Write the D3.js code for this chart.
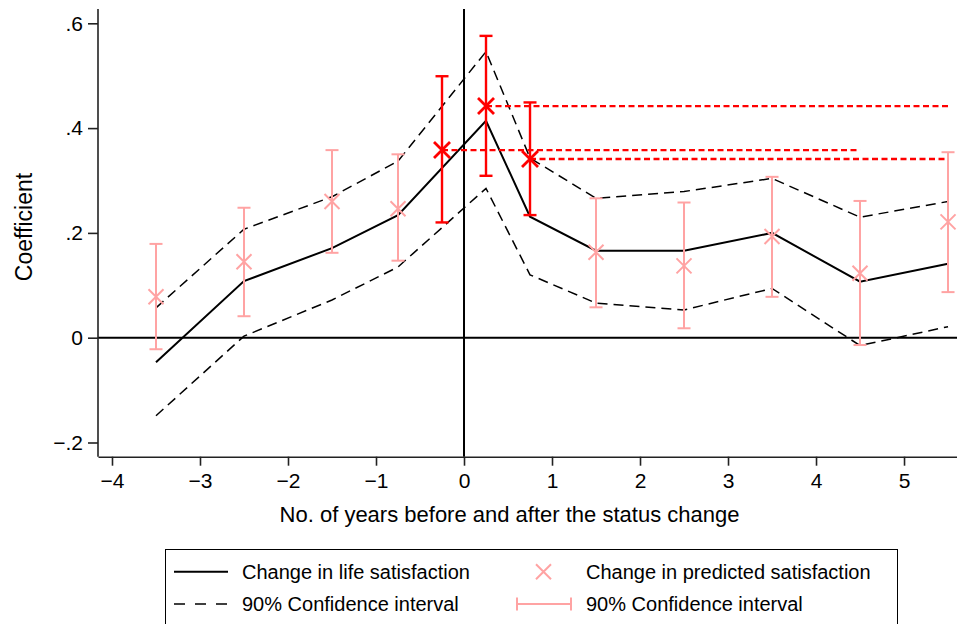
<!DOCTYPE html>
<html>
<head>
<meta charset="utf-8">
<script src="https://cdn.jsdelivr.net/npm/d3@7"></script>
<style>
  html, body { margin: 0; padding: 0; background: #fff; }
  svg { display: block; }
  text { font-family: "Liberation Sans", Arial, Helvetica, sans-serif; fill: #000; }
</style>
</head>
<body>
<svg id="chart" width="957" height="624"></svg>
<script>
// ---- data ----
const lineX    = [-3.5, -2.5, -1.5, -0.75, 0.25, 0.75, 1.5, 2.5, 3.5, 4.5, 5.5];
const lifeSat  = [-0.047, 0.108, 0.171, 0.234, 0.414, 0.231, 0.166, 0.166, 0.200, 0.107, 0.141];
const ciUpper  = [0.057, 0.207, 0.269, 0.337, 0.546, 0.343, 0.266, 0.279, 0.304, 0.230, 0.260];
const ciLower  = [-0.149, 0.003, 0.072, 0.135, 0.285, 0.120, 0.066, 0.053, 0.094, -0.015, 0.021];

const predX    = [-3.5, -2.5, -1.5, -0.75, 1.5, 2.5, 3.5, 4.5, 5.5];
const pred     = [0.078, 0.145, 0.260, 0.246, 0.163, 0.137, 0.193, 0.123, 0.221];
const predHi   = [0.179, 0.248, 0.358, 0.350, 0.266, 0.258, 0.307, 0.261, 0.354];
const predLo   = [-0.022, 0.041, 0.162, 0.147, 0.058, 0.018, 0.078, -0.014, 0.087];

const redX     = [-0.25, 0.25, 0.75];
const red      = [0.358, 0.442, 0.341];
const redHi    = [0.499, 0.576, 0.449];
const redLo    = [0.220, 0.309, 0.234];
const refEnd   = [4.5, 5.5, 5.5];

const xTicks   = [-4, -3, -2, -1, 0, 1, 2, 3, 4, 5];
const yTicks   = [-0.2, 0, 0.2, 0.4, 0.6];
const yTickLabels = ["\u2212.2", "0", ".2", ".4", ".6"];

const xTitle = "No. of years before and after the status change";
const yTitle = "Coefficient";
const legendLabels = ["Change in life satisfaction", "Change in predicted satisfaction",
                      "90% Confidence interval", "90% Confidence interval"];

// ---- layout ----
const svg = d3.select("#chart");
const plotL = 98, plotR = 957, plotT = 9, plotB = 456.7;
const x = d3.scaleLinear().domain([-4.159, 5.602]).range([plotL, plotR]);
const y = d3.scaleLinear().domain([-0.2271, 0.6273]).range([plotB, plotT]);

const PINK = "#ffa3a3", RED = "#ff0000";

// reference lines
svg.append("line").attr("x1", plotL).attr("x2", plotR)
  .attr("y1", y(0)).attr("y2", y(0)).attr("stroke", "#000").attr("stroke-width", 2);
svg.append("line").attr("x1", x(0)).attr("x2", x(0))
  .attr("y1", plotT).attr("y2", plotB).attr("stroke", "#000").attr("stroke-width", 2);

// axes
const yAxis = d3.axisLeft(y).tickValues(yTicks)
  .tickFormat((d, i) => yTickLabels[i]).tickSize(10).tickPadding(5).tickSizeOuter(0);
const gy = svg.append("g").attr("transform", `translate(${plotL},0)`).call(yAxis);
gy.select(".domain").attr("d", `M0,${plotT}V${plotB}`);
const xAxis = d3.axisBottom(x).tickValues(xTicks)
  .tickFormat(d => d < 0 ? "\u2212" + Math.abs(d) : String(d))
  .tickSize(9).tickPadding(7).tickSizeOuter(0);
const gx = svg.append("g").attr("transform", `translate(0,${plotB})`).call(xAxis);
[gx, gy].forEach(g => {
  g.selectAll(".domain").attr("stroke", "#222").attr("stroke-width", 1.6);
  g.selectAll(".tick line").attr("stroke", "#222").attr("stroke-width", 1.6);
  g.selectAll(".tick text").attr("font-size", 21)
    .attr("font-family", '"Liberation Sans", Arial, Helvetica, sans-serif').attr("fill", "#000");
});

// titles
svg.append("text").attr("x", (plotL + 957) / 2 - 18).attr("y", 522)
  .attr("text-anchor", "middle").attr("font-size", 22).text(xTitle);
svg.append("text").attr("transform", `translate(32,227) rotate(-90)`)
  .attr("text-anchor", "middle").attr("font-size", 23).text(yTitle);

// black lines
const idx = d3.range(lineX.length);
const lineGen = arr => d3.line().x(i => x(lineX[i])).y(i => y(arr[i]))(idx);
svg.append("path").attr("d", lineGen(ciUpper)).attr("fill", "none")
  .attr("stroke", "#000").attr("stroke-width", 1.5).attr("stroke-dasharray", "10,6");
svg.append("path").attr("d", lineGen(ciLower)).attr("fill", "none")
  .attr("stroke", "#000").attr("stroke-width", 1.5).attr("stroke-dasharray", "10,6");
svg.append("path").attr("d", lineGen(lifeSat)).attr("fill", "none")
  .attr("stroke", "#000").attr("stroke-width", 2);

// error bars + X markers
function drawBars(xs, mid, lo, hi, color, sw, cap, ms, msw) {
  const g = svg.append("g");
  xs.forEach((xv, i) => {
    const cx = x(xv);
    g.append("line").attr("x1", cx).attr("x2", cx).attr("y1", y(lo[i])).attr("y2", y(hi[i]))
      .attr("stroke", color).attr("stroke-width", sw);
    [lo[i], hi[i]].forEach(v => {
      g.append("line").attr("x1", cx - cap).attr("x2", cx + cap).attr("y1", y(v)).attr("y2", y(v))
        .attr("stroke", color).attr("stroke-width", sw);
    });
    const cy = y(mid[i]);
    g.append("path").attr("d", `M${cx - ms},${cy - ms}L${cx + ms},${cy + ms}M${cx - ms},${cy + ms}L${cx + ms},${cy - ms}`)
      .attr("stroke", color).attr("stroke-width", msw).attr("fill", "none");
  });
}
drawBars(predX, pred, predLo, predHi, PINK, 2, 6.5, 7.5, 2);

// red dashed reference levels
redX.forEach((xv, i) => {
  svg.append("line").attr("x1", x(xv)).attr("x2", x(refEnd[i]))
    .attr("y1", y(red[i])).attr("y2", y(red[i]))
    .attr("stroke", RED).attr("stroke-width", 2.4).attr("stroke-dasharray", "6,3.5");
});
drawBars(redX, red, redLo, redHi, RED, 2.4, 6.5, 8, 2.8);

// legend
const lg = svg.append("g");
lg.append("rect").attr("x", 165.5).attr("y", 549.5).attr("width", 732).attr("height", 100)
  .attr("fill", "#fff").attr("stroke", "#000").attr("stroke-width", 1);
const r1 = 571.7, r2 = 604;
lg.append("line").attr("x1", 174).attr("x2", 228).attr("y1", r1).attr("y2", r1)
  .attr("stroke", "#000").attr("stroke-width", 2);
lg.append("line").attr("x1", 174).attr("x2", 228).attr("y1", r2).attr("y2", r2)
  .attr("stroke", "#000").attr("stroke-width", 1.5).attr("stroke-dasharray", "11,10");
const mx = 543.5, ms = 7.5;
lg.append("path").attr("d", `M${mx - ms},${r1 - ms}L${mx + ms},${r1 + ms}M${mx - ms},${r1 + ms}L${mx + ms},${r1 - ms}`)
  .attr("stroke", PINK).attr("stroke-width", 2).attr("fill", "none");
lg.append("line").attr("x1", 517).attr("x2", 571).attr("y1", r2).attr("y2", r2)
  .attr("stroke", PINK).attr("stroke-width", 2);
[517, 571].forEach(xx => lg.append("line").attr("x1", xx).attr("x2", xx)
  .attr("y1", r2 - 6.5).attr("y2", r2 + 6.5).attr("stroke", PINK).attr("stroke-width", 2));
const legPos = [[242, r1], [586, r1], [242, r2], [586, r2]];
legendLabels.forEach((t, i) => {
  lg.append("text").attr("x", legPos[i][0]).attr("y", legPos[i][1]).attr("dy", "0.35em")
    .attr("font-size", 20).text(t);
});
</script>
</body>
</html>
